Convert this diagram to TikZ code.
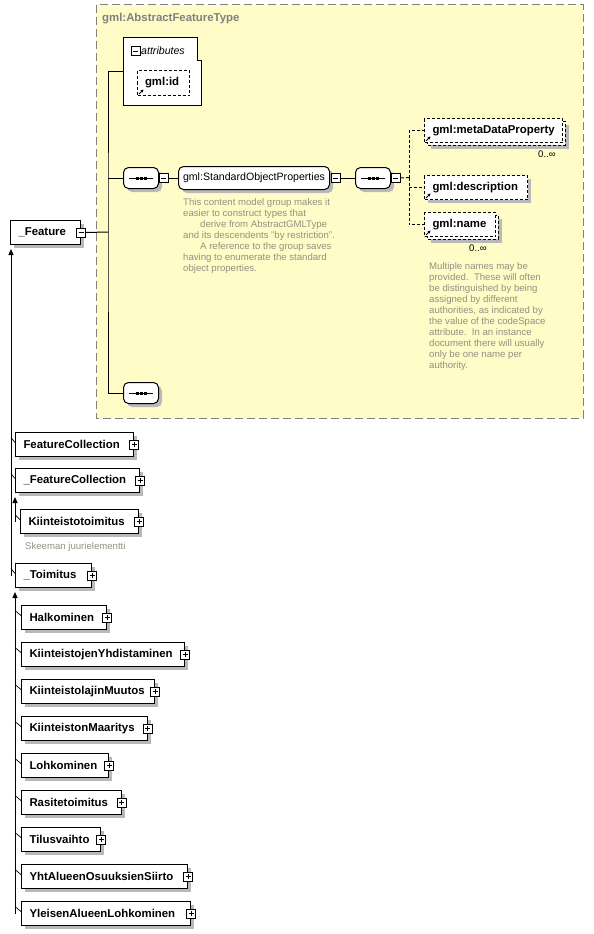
\documentclass[tikz,border=0pt]{standalone}
\usepackage{fontspec}
\setmainfont{Liberation Sans}
\usetikzlibrary{positioning, calc}
\usetikzlibrary{arrows.meta}

\colorlet{panelfill}{yellow!22}
\definecolor{panelline}{RGB}{128,128,128}
\definecolor{notecol}{RGB}{145,145,130}
\definecolor{boxgray}{RGB}{185,185,185}

\newcommand\elemfont{\fontsize{11.4pt}{13pt}\selectfont\bfseries}
\newcommand\groupfont{\fontsize{10.6pt}{12pt}\selectfont}
\newcommand\notefont{\fontsize{9.6pt}{11pt}\selectfont}
\newcommand\seqmark[1]{%
    \draw[line width=1pt] ([xshift=6pt]#1.west) -- ([xshift=-6pt]#1.east);
    \fill ([xshift=-5.5pt,yshift=-1.5pt]#1.center) rectangle ++(3pt,3pt);
    \fill ([xshift=-1.5pt,yshift=-1.5pt]#1.center) rectangle ++(3pt,3pt);
    \fill ([xshift=2.5pt,yshift=-1.5pt]#1.center) rectangle ++(3pt,3pt);}

\begin{document}
\begin{tikzpicture}[x=1pt, y=-1pt]
    \tikzset{optdash/.style = {dash pattern=on 3pt off 2pt}}
    \tikzset{elem/.style = {draw, fill=white, line width=1pt, anchor=north west, minimum height=24pt,
        inner xsep=8pt, inner ysep=0pt, align=left, font=\elemfont, execute at begin node={\hyphenpenalty=10000 }}}
    \tikzset{optelem/.style = {elem, optdash}}
    \tikzset{optback/.style = {draw, fill=white, line width=1pt, optdash}}
    \tikzset{togglebox/.style = {draw, fill=white, line width=0.8pt, minimum size=9pt, inner sep=0pt}}
    \tikzset{minusbox/.style = {togglebox, path picture={
        \draw[line width=0.8pt] ([xshift=2pt]path picture bounding box.west) -- ([xshift=-2pt]path picture bounding box.east);}}}
    \tikzset{plusbox/.style = {togglebox, path picture={
        \draw[line width=0.8pt] ([xshift=2pt]path picture bounding box.west) -- ([xshift=-2pt]path picture bounding box.east);
        \draw[line width=0.8pt] ([yshift=2pt]path picture bounding box.south) -- ([yshift=-2pt]path picture bounding box.north);}}}
    \tikzset{seqbox/.style = {draw, fill=white, line width=1pt, rounded corners=5pt, minimum width=35pt,
        minimum height=21pt, inner sep=0pt, anchor=north west}}
    \tikzset{groupbox/.style = {draw, fill=white, line width=1pt, rounded corners=5pt, minimum width=151pt,
        minimum height=23pt, inner xsep=4pt, inner ysep=0pt, anchor=north west, font=\groupfont}}
    \tikzset{notetext/.style = {anchor=north west, align=left, inner sep=0pt, font=\notefont, text=notecol}}
    \tikzset{multtext/.style = {anchor=north, inner sep=0pt, font=\notefont}}
    \tikzset{connline/.style = {line width=1pt}}
    \tikzset{optline/.style = {line width=1pt, optdash}}
    \tikzset{refarrow/.style = {line width=0.8pt, -{Stealth[length=3pt,width=3pt]}}}
    \tikzset{tickline/.style = {line width=0.7pt}}
    \tikzset{inhline/.style = {line width=1pt, -{Triangle[length=6pt,width=5pt]}}}

    \useasboundingbox (0,0) rectangle (594,934);

    % abstract feature type
    \draw[fill=panelfill, draw=panelline, line width=1pt, dash pattern=on 8pt off 4pt] (96,5) rectangle (583,418);
    \node[anchor=west, inner sep=0pt, font=\elemfont, text=panelline] (ptitle) at (102,19) {gml:AbstractFeatureType};

    % shadows
    \foreach \x/\y/\w in {10/220/70, 15/432/118, 15/468/124, 20/509/118, 15/563/76,
                          21/605/85, 21/642/163, 21/679/133, 21/716/125.5, 21/753/87,
                          21/790/99.5, 21/827/79, 21/864/166, 21/901/169,
                          424/175/103, 427/121/138, 427/215/71}
        \fill[boxgray] (\x+4,\y+4) rectangle ++(\w,24);
    \fill[boxgray] (141,74) rectangle ++(52,25);
    \foreach \x/\y/\w/\h in {123/167/35/21, 355/167/35/21, 123/382/35/21, 178/166/151/23}
        \fill[boxgray, rounded corners=5pt] (\x+4,\y+4) rectangle ++(\w,\h);

    % attributes
    \draw[fill=white, line width=1pt] (123,38) -- (197,38) -- (197,61) -- (201,61) -- (201,105) -- (123,105) -- cycle;
    \node[minusbox] (attrx) at (135.5,51) {};
    \node[anchor=west, inner sep=0pt, font=\groupfont\itshape] (attrt) at (141,50.5) {attributes};
    \node[optelem, text width=37pt, minimum height=25pt, inner xsep=7.5pt] (gid) at (137,70) {gml:id};
    \draw[refarrow] ([shift={(2pt,2pt)}]gid.south west) -- ++(4.5pt,4.5pt);

    % model groups
    \node[seqbox] (seqa) at (123,167) {};
    \seqmark{seqa}
    \node[minusbox, anchor=west] (seqax) at (seqa.east) {};
    \node[groupbox] (sop) at (178,166) {gml:StandardObjectProperties};
    \node[minusbox, anchor=west] (sopx) at ([xshift=1pt]sop.east) {};
    \node[seqbox] (seqb) at (355,167) {};
    \seqmark{seqb}
    \node[minusbox, anchor=west] (seqbx) at (seqb.east) {};
    \node[seqbox] (seqc) at (123,382) {};
    \seqmark{seqc}
    \node[notetext] (sopnote) at (183,198) {This content model group makes it\\easier to construct types that\\\hspace*{17pt}derive from AbstractGMLType\\and its descendents "by restriction".\\\hspace*{17pt}A reference to the group saves\\having to enumerate the standard\\object properties.};

    % standard object properties
    \draw[optback] (427,121) rectangle (565,145);
    \node[optelem, text width=122pt] (meta) at (424,118) {gml:metaDataProperty};
    \draw[refarrow] ([shift={(2pt,2pt)}]meta.south west) -- ++(4.5pt,4.5pt);
    \node[multtext] (metam) at (547,151) {0..∞};
    \node[optelem, text width=87pt] (desc) at (424,175) {gml:description};
    \draw[refarrow] ([shift={(2pt,2pt)}]desc.south west) -- ++(4.5pt,4.5pt);
    \draw[optback] (427,215) rectangle (498,239);
    \node[optelem, text width=55pt] (name) at (424,212) {gml:name};
    \draw[refarrow] ([shift={(2pt,2pt)}]name.south west) -- ++(4.5pt,4.5pt);
    \node[multtext] (namem) at (478,245) {0..∞};
    \node[notetext] (namenote) at (429,262) {Multiple names may be\\provided.\ \ These will often\\be distinguished by being\\assigned by different\\authorities, as indicated by\\the value of the codeSpace\\attribute.\ \ In an instance\\document there will usually\\only be one name per\\authority.};

    % feature and its substitutes
    \node[elem, text width=54pt] (feat) at (10,220) {\_Feature};
    \node[minusbox] (featx) at (feat.east) {};
    \node[elem, text width=102pt] (fc) at (15,432) {FeatureCollection};
    \node[elem, text width=108pt] (fcol) at (15,468) {\_FeatureCollection};
    \node[elem, text width=102pt] (kt) at (20,509) {Kiinteistotoimitus};
    \node[notetext] (ktnote) at (25,542) {Skeeman juurielementti};
    \node[elem, text width=60pt] (toim) at (15,563) {\_Toimitus};

    % toimitus types
    \node[elem, text width=69pt] (halk) at (21,605) {Halkominen};
    \node[elem, text width=147pt] (kyhd) at (21,642) {KiinteistojenYhdistaminen};
    \node[elem, text width=117pt] (klaj) at (21,679) {KiinteistolajinMuutos};
    \node[elem, text width=109.5pt] (kmaa) at (21,716) {KiinteistonMaaritys};
    \node[elem, text width=71pt] (lohk) at (21,753) {Lohkominen};
    \node[elem, text width=83.5pt] (rasi) at (21,790) {Rasitetoimitus};
    \node[elem, text width=63pt] (tilu) at (21,827) {Tilusvaihto};
    \node[elem, text width=150pt] (yhta) at (21,864) {YhtAlueenOsuuksienSiirto};
    \node[elem, text width=153pt] (ylei) at (21,901) {YleisenAlueenLohkominen};

    \foreach \n in {fc,fcol,kt,toim,halk,kyhd,klaj,kmaa,lohk,rasi,tilu,yhta,ylei}
        \node[plusbox] (\n-x) at (\n.east) {};

    % content connectors
    \coordinate (attrin) at (123,72);
    \coordinate (spine) at (108,232);
    \coordinate (bus) at (409,177.5);
    \draw[connline] (featx.east) -- (spine);
    \draw[connline] (attrin) -| (spine) |- (seqc.west);
    \draw[connline] (seqa.west) -- (seqa.west -| spine);
    \draw[connline] (seqax.east) -- (sop.west);
    \draw[connline] (sopx.east) -- (seqb.west);
    \draw[optline] (seqbx.east) -- (bus);
    \draw[optline] (bus) |- (meta.west);
    \draw[optline] (bus) |- (desc.west);
    \draw[optline] (bus) |- (name.west);

    % substitution lines
    \coordinate (trunka) at ([xshift=1pt]feat.south west);
    \coordinate (trunkb) at (fcol.south west);
    \coordinate (trunkc) at (toim.south west);
    \draw[inhline] (trunka |- toim.west) -- ([yshift=-4pt]trunka);
    \draw[inhline] (trunkb |- kt.west) -- ([yshift=-4pt]trunkb);
    \draw[inhline] (trunkc |- ylei.west) -- ([yshift=-4pt]trunkc);
    \foreach \n in {fc,fcol,toim}
        \draw[tickline] ($(trunka |- \n.west)+(0pt,7pt)$) -- ([yshift=2pt]\n.west);
    \draw[tickline] ($(trunkb |- kt.west)+(0pt,7pt)$) -- ([yshift=2pt]kt.west);
    \foreach \n in {halk,kyhd,klaj,kmaa,lohk,rasi,tilu,yhta,ylei}
        \draw[tickline] ($(trunkc |- \n.west)+(0pt,7pt)$) -- ([yshift=2pt]\n.west);
\end{tikzpicture}
\end{document}
